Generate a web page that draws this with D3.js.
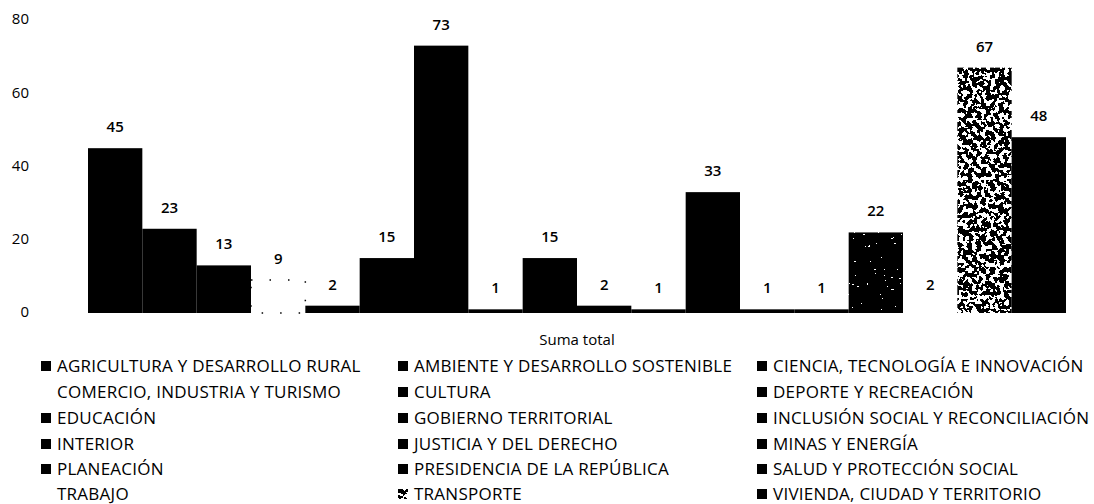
<!DOCTYPE html>
<html>
<head>
<meta charset="utf-8">
<script src="https://cdn.jsdelivr.net/npm/d3@7"></script>
<style>
  html, body { margin: 0; padding: 0; background: #fff; }
  svg { display: block; font-family: "Open Sans", Lato, sans-serif; }
</style>
</head>
<body>
<svg id="chart" width="1094" height="504"></svg>
<script>
// Sectors and their totals (single category "Suma total")
const sectors = [
  "AGRICULTURA Y DESARROLLO RURAL",
  "AMBIENTE Y DESARROLLO SOSTENIBLE",
  "CIENCIA, TECNOLOGÍA E INNOVACIÓN",
  "COMERCIO, INDUSTRIA Y TURISMO",
  "CULTURA",
  "DEPORTE Y RECREACIÓN",
  "EDUCACIÓN",
  "GOBIERNO TERRITORIAL",
  "INCLUSIÓN SOCIAL Y RECONCILIACIÓN",
  "INTERIOR",
  "JUSTICIA Y DEL DERECHO",
  "MINAS Y ENERGÍA",
  "PLANEACIÓN",
  "PRESIDENCIA DE LA REPÚBLICA",
  "SALUD Y PROTECCIÓN SOCIAL",
  "TRABAJO",
  "TRANSPORTE",
  "VIVIENDA, CIUDAD Y TERRITORIO"
];
const totals = [45, 23, 13, 9, 2, 15, 73, 1, 15, 2, 1, 33, 1, 1, 22, 2, 67, 48];
const yTicks = [0, 20, 40, 60, 80];
const categoryLabel = "Suma total";

// Fill style per sector: solid, light, light-speckled or dense-speckled
const fillStyle = {
  "COMERCIO, INDUSTRIA Y TURISMO": "dotted",
  "TRABAJO": "blank",
  "SALUD Y PROTECCIÓN SOCIAL": "speckleLight",
  "TRANSPORTE": "speckleHeavy"
};

const svg = d3.select("#chart");
const defs = svg.append("defs");

function speckleFilter(id, onesFrom, freq, seed) {
  const f = defs.append("filter").attr("id", id)
    .attr("x", 0).attr("y", 0).attr("width", 1).attr("height", 1);
  f.append("feTurbulence").attr("type", "fractalNoise")
    .attr("baseFrequency", freq).attr("numOctaves", 2).attr("seed", seed).attr("result", "noise");
  f.append("feColorMatrix").attr("in", "noise").attr("type", "matrix")
    .attr("values", "1 0 0 0 0  1 0 0 0 0  1 0 0 0 0  0 0 0 0 1").attr("result", "gray");
  const table = d3.range(25).map(i => (i >= onesFrom ? 1 : 0)).join(" ");
  const ct = f.append("feComponentTransfer").attr("in", "gray").attr("result", "bw");
  ["feFuncR", "feFuncG", "feFuncB"].forEach(fn => ct.append(fn).attr("type", "discrete").attr("tableValues", table));
  f.append("feComposite").attr("in", "bw").attr("in2", "SourceGraphic").attr("operator", "in");
}
speckleFilter("speckle-heavy", 13, 0.22, 7);
speckleFilter("speckle-light", 19, 0.35, 11);

const x = d3.scaleBand().domain(sectors).range([88, 1066]).padding(0);
const y = d3.scaleLinear().domain([0, 80]).range([313, 20]);

// Y axis labels (no axis line or gridlines)
const yAxis = d3.axisLeft(y).tickValues(yTicks).tickSize(0).tickPadding(0);
const yg = svg.append("g").attr("transform", "translate(29,-1)").call(yAxis);
yg.select(".domain").remove();
yg.selectAll("text").attr("font-size", 15).attr("font-family", "'Open Sans', sans-serif").attr("fill", "#000");

const data = sectors.map((s, i) => ({ sector: s, value: totals[i], style: fillStyle[s] || "solid" }));

function applyFill(sel) {
  sel.attr("fill", d => (d.style === "dotted" || d.style === "blank") ? "#fff" : "#000")
     .attr("filter", d => d.style === "speckleHeavy" ? "url(#speckle-heavy)"
                        : d.style === "speckleLight" ? "url(#speckle-light)" : null)
     .attr("stroke", d => d.style === "dotted" ? "#000" : "none")
     .attr("stroke-width", d => d.style === "dotted" ? 1.5 : 0)
     .attr("stroke-dasharray", d => d.style === "dotted" ? "1.5,17" : null);
}

svg.append("g").selectAll("rect").data(data).join("rect")
  .attr("x", d => x(d.sector))
  .attr("y", d => y(d.value))
  .attr("width", x.bandwidth())
  .attr("height", d => y(0) - y(d.value))
  .call(applyFill);

// Value labels above each bar
svg.append("g").selectAll("text").data(data).join("text")
  .attr("x", d => x(d.sector) + x.bandwidth() / 2)
  .attr("y", d => y(d.value) - 16)
  .attr("text-anchor", "middle")
  .attr("font-size", 15)
  .attr("font-weight", 600)
  .attr("fill", "#000")
  .text(d => d.value);

// Category label
svg.append("text")
  .attr("x", (x.range()[0] + x.range()[1]) / 2)
  .attr("y", 345)
  .attr("text-anchor", "middle")
  .attr("font-size", 15)
  .text(categoryLabel);

// Legend: three columns, row-major
const colX = [41, 398, 757];
const rowY = [366, 392, 418, 444, 469, 494];
const leg = svg.append("g").selectAll("g").data(data).join("g")
  .attr("transform", (d, i) => `translate(${colX[i % 3]},${rowY[Math.floor(i / 3)]})`);
leg.append("rect")
  .attr("x", 0).attr("y", -5).attr("width", 10).attr("height", 10)
  .attr("fill", d => (d.style === "dotted" || d.style === "blank") ? "#fff" : "#000")
  .attr("filter", d => d.style === "speckleHeavy" ? "url(#speckle-heavy)" : null);
leg.append("text")
  .attr("x", 16).attr("y", 0).attr("dy", "0.36em")
  .attr("font-size", 17)
  .attr("letter-spacing", 0.25)
  .attr("fill", "#000")
  .text(d => d.sector);
</script>
</body>
</html>
